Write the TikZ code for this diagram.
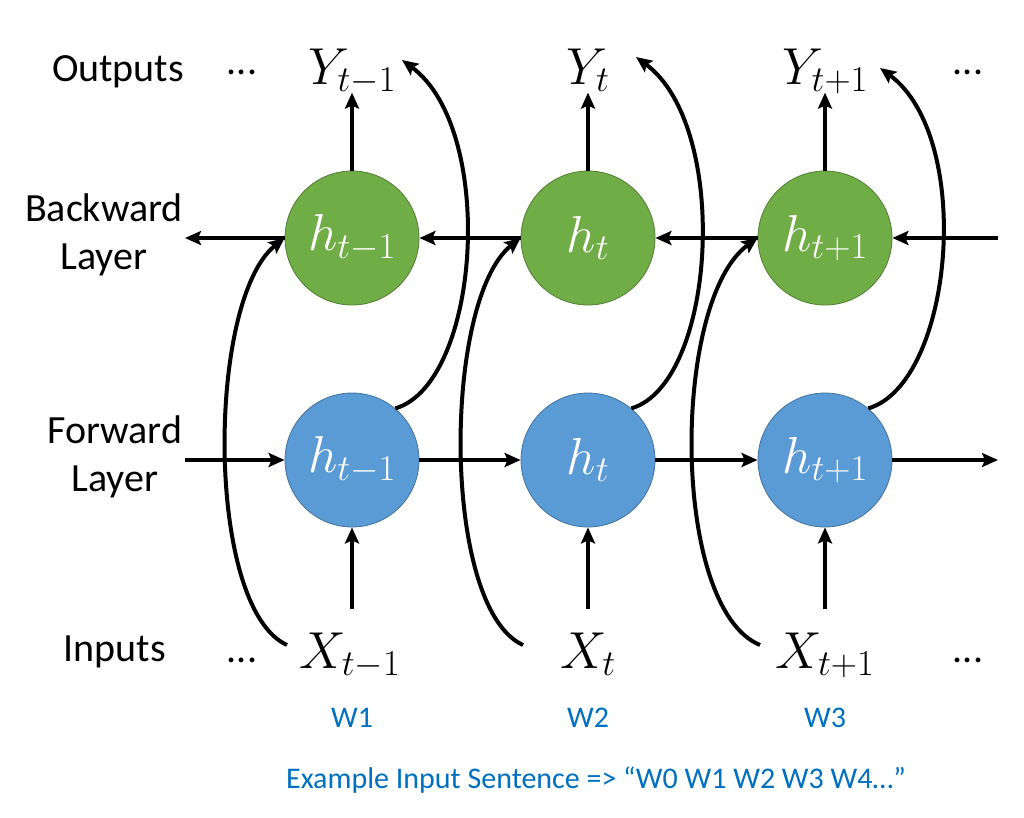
\RequirePackage{fix-cm}
\documentclass[tikz,border=0pt]{standalone}
\usepackage[no-math]{fontspec}
\setmainfont{Carlito}
\usetikzlibrary{arrows.meta,calc}
\definecolor{ggreen}{HTML}{70AD47}
\definecolor{gblue}{HTML}{5B9BD5}
\definecolor{tblue}{HTML}{0070C0}
\definecolor{gborder}{HTML}{507E32}
\definecolor{bborder}{HTML}{41719C}
\newcommand\mfsz{\fontsize{52}{60}\selectfont}
\newcommand\lfsz{\fontsize{40}{48}\selectfont}
\newcommand\wfsz{\fontsize{30}{36}\selectfont}
\begin{document}
\begin{tikzpicture}[x=1pt,y=-1pt,
  conn/.style={line width=4pt,-{Stealth[length=16pt,width=14pt,inset=3pt]}},
  hnode/.style={circle,minimum size=134pt,inner sep=0pt,text=white,font=\mfsz},
  gnode/.style={hnode,fill=ggreen,draw=gborder,line width=0.8pt},
  bnode/.style={hnode,fill=gblue,draw=bborder,line width=0.8pt},
  lab/.style={font=\lfsz,text=black,align=center},
  ml/.style={font=\mfsz,anchor=base},
  wl/.style={font=\wfsz,text=tblue}]
\useasboundingbox (0,0) rectangle (1024,817);
\fill[white] (0,0) rectangle (1024,817);
% circles
\node[gnode] (g1) at (352,238) {$h_{t-1}$};
\node[gnode] (g2) at (588,238) {$h_{t}$};
\node[gnode] (g3) at (825,238) {$h_{t+1}$};
\node[bnode] (b1) at (352,460) {$h_{t-1}$};
\node[bnode] (b2) at (588,460) {$h_{t}$};
\node[bnode] (b3) at (825,460) {$h_{t+1}$};
% outputs / inputs
\node[ml] (y1) at (352,84) {$Y_{t-1}$};
\node[ml] (y2) at (588,84) {$Y_{t}$};
\node[ml] (y3) at (825,84) {$Y_{t+1}$};
\node[ml] (x1) at (350,668) {$X_{t-1}$};
\node[ml] (x2) at (588,668) {$X_{t}$};
\node[ml] (x3) at (825,668) {$X_{t+1}$};
% side labels
\node[lab] (out) at (118,72) {Outputs};
\node[lab] (bw) at (104,235) {Backward\\Layer};
\node[lab] (fw) at (115,457) {Forward\\Layer};
\node[lab] (inp) at (115,652) {Inputs};
\node[lab] (d1) at (242,72) {...};
\node[lab] (d2) at (968,72) {...};
\node[lab] (d3) at (242,660) {...};
\node[lab] (d4) at (968,660) {...};
\node[wl] (w1) at (352,718) {W1};
\node[wl] (w2) at (588,718) {W2};
\node[wl] (w3) at (825,718) {W3};
\node[wl] (ex) at (596,780) {Example Input Sentence => “W0 W1 W2 W3 W4…”};
% vertical arrows
\foreach \i in {1,2,3}{
  \draw[conn] (g\i.north) -- ++(0,-78);
  \draw[conn] ($(b\i.south)+(0,82)$) -- (b\i.south);
}
% horizontal arrows
\coordinate (bl) at (185,238);
\coordinate (br) at (998,238);
\coordinate (fl) at (185,460);
\coordinate (fr) at (998,460);
\draw[conn] (br) -- (g3.east);
\draw[conn] (g3.west) -- (g2.east);
\draw[conn] (g2.west) -- (g1.east);
\draw[conn] (g1.west) -- (bl);
\draw[conn] (fl) -- (b1.west);
\draw[conn] (b1.east) -- (b2.west);
\draw[conn] (b2.east) -- (b3.west);
\draw[conn] (b3.east) -- (fr);
% curved arrows: inputs to backward layer
\coordinate (s1) at (287,645);
\coordinate (s2) at (523,645);
\coordinate (s3) at (760,645);
\draw[conn] (s1) .. controls +(-82,-37) and +(-78,62) .. (g1.west);
\draw[conn] (s2) .. controls +(-82,-37) and +(-78,62) .. (g2.west);
\draw[conn] (s3) .. controls +(-90,-37) and +(-86,62) .. (g3.west);
% curved arrows: forward layer to outputs
\coordinate (e1) at (402,60);
\coordinate (e2) at (636,57);
\coordinate (e3) at (880,68);
\draw[conn] (b1.50) .. controls +(85,-25) and +(95,70) .. (e1);
\draw[conn] (b2.50) .. controls +(85,-25) and +(95,70) .. (e2);
\draw[conn] (b3.50) .. controls +(85,-25) and +(95,70) .. (e3);
\end{tikzpicture}
\end{document}
